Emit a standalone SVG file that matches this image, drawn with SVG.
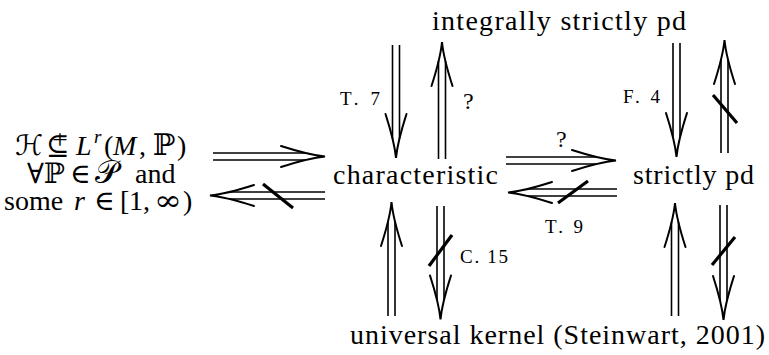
<svg xmlns="http://www.w3.org/2000/svg" xmlns:xlink="http://www.w3.org/1999/xlink" width="769" height="355" viewBox="0 0 769 355">
<style>
  .t { font-family: "Liberation Serif", "DejaVu Serif", serif; font-size: 28px; fill: #000; }
  .it { font-style: italic; }
  .sym { font-family: "DejaVu Serif", "DejaVu Sans", serif; }
  .lbl { font-family: "Liberation Serif", "DejaVu Serif", serif; font-size: 19px; fill: #000; }
  .q { font-size: 24px; }
  .sh { stroke: #000; stroke-width: 1.6; fill: none; }
  .hd { stroke: #000; stroke-width: 2; fill: none; stroke-linecap: round; }
  .sl { stroke: #000; stroke-width: 3.2; fill: none; }
</style>
<defs>
  <path id="ah" class="hd" d="M-44,-10.5 Q-16,-1.5 0,0 Q-16,1.5 -44,10.5"/>
</defs>
<rect width="769" height="355" fill="#fff"/>

<g id="n-left">
  <text class="t sym" x="15" y="155" font-size="25">ℋ</text>
  <text class="t sym" x="46" y="155" font-size="24">⊆</text>
  <text class="t" x="52" y="149" font-size="15">+</text>
  <text class="t" y="155">
    <tspan x="76" class="it">L</tspan><tspan x="94" y="143" class="it" font-size="19">r</tspan><tspan x="104" y="155">(</tspan><tspan x="113" class="it">M</tspan><tspan x="139">,</tspan><tspan x="153" class="sym" font-size="30">ℙ</tspan><tspan x="177" font-size="28">)</tspan>
  </text>
  <text class="t" y="182.5">
    <tspan x="27" class="sym">∀</tspan><tspan x="44" class="sym">ℙ</tspan><tspan x="70" class="sym">∈</tspan><tspan x="95" class="sym" font-size="32">𝒫</tspan><tspan x="135" font-size="28">and</tspan>
  </text>
  <text class="t" y="210">
    <tspan x="4">some</tspan><tspan x="74" class="it">r</tspan><tspan x="94" class="sym">∈</tspan><tspan x="120">[</tspan><tspan x="129">1</tspan><tspan x="143">,</tspan><tspan x="183">)</tspan>
  </text>
  <text class="t sym" transform="translate(154,210) scale(1.2,1)">∞</text>
</g>

<g id="n-char">
  <text class="t" x="333" y="184" textLength="165" lengthAdjust="spacing">characteristic</text>
</g>
<g id="n-isp">
  <text class="t" x="432" y="30" textLength="254" lengthAdjust="spacing">integrally strictly pd</text>
</g>
<g id="n-spd">
  <text class="t" x="633" y="184" textLength="121" lengthAdjust="spacing">strictly pd</text>
</g>
<g id="n-univ">
  <text class="t" x="350" y="344" textLength="415" lengthAdjust="spacing">universal kernel (Steinwart, 2001)</text>
</g>

<g id="connectors">
  <!-- left: H -> characteristic -->
  <g id="e1">
    <line class="sh" x1="213" y1="153" x2="306" y2="153"/>
    <line class="sh" x1="213" y1="160" x2="306" y2="160"/>
    <use href="#ah" transform="translate(325,156.5)"/>
  </g>
  <!-- left: characteristic -/-> H -->
  <g id="e2">
    <line class="sh" x1="229" y1="192" x2="325" y2="192"/>
    <line class="sh" x1="229" y1="199" x2="325" y2="199"/>
    <use href="#ah" transform="translate(210,195.5) rotate(180)"/>
    <line class="sl" x1="263" y1="184" x2="293" y2="208"/>
  </g>
  <!-- integrally strictly pd -> characteristic (T. 7) -->
  <g id="e3">
    <line class="sh" x1="392.5" y1="45" x2="392.5" y2="139"/>
    <line class="sh" x1="399.5" y1="45" x2="399.5" y2="139"/>
    <use href="#ah" transform="translate(396,158) rotate(90)"/>
    <text class="lbl" x="340" y="105" textLength="40" lengthAdjust="spacing">T. 7</text>
  </g>
  <!-- characteristic -> integrally strictly pd (?) -->
  <g id="e4">
    <line class="sh" x1="438.5" y1="61" x2="438.5" y2="159"/>
    <line class="sh" x1="445.5" y1="61" x2="445.5" y2="159"/>
    <use href="#ah" transform="translate(442,42) rotate(-90)"/>
    <text class="lbl q" x="463" y="109">?</text>
  </g>
  <!-- characteristic -> strictly pd (?) -->
  <g id="e5">
    <line class="sh" x1="506" y1="157" x2="597" y2="157"/>
    <line class="sh" x1="506" y1="164" x2="597" y2="164"/>
    <use href="#ah" transform="translate(616,160.5)"/>
    <text class="lbl q" x="556" y="147">?</text>
  </g>
  <!-- strictly pd -/-> characteristic (T. 9) -->
  <g id="e6">
    <line class="sh" x1="527" y1="189" x2="617" y2="189"/>
    <line class="sh" x1="527" y1="196" x2="617" y2="196"/>
    <use href="#ah" transform="translate(508,192.5) rotate(180)"/>
    <line class="sl" x1="558" y1="203" x2="588" y2="181"/>
    <text class="lbl" x="545" y="233" textLength="38" lengthAdjust="spacing">T. 9</text>
  </g>
  <!-- integrally strictly pd -> strictly pd (F. 4) -->
  <g id="e7">
    <line class="sh" x1="673" y1="43" x2="673" y2="138"/>
    <line class="sh" x1="680" y1="43" x2="680" y2="138"/>
    <use href="#ah" transform="translate(676.5,157) rotate(90)"/>
    <text class="lbl" x="623" y="103" textLength="37" lengthAdjust="spacing">F. 4</text>
  </g>
  <!-- strictly pd -/-> integrally strictly pd -->
  <g id="e8">
    <line class="sh" x1="721" y1="59" x2="721" y2="153"/>
    <line class="sh" x1="728" y1="59" x2="728" y2="153"/>
    <use href="#ah" transform="translate(724.5,40) rotate(-90)"/>
    <line class="sl" x1="713" y1="95" x2="737" y2="123"/>
  </g>
  <!-- universal -> characteristic -->
  <g id="e9">
    <line class="sh" x1="388" y1="221" x2="388" y2="316"/>
    <line class="sh" x1="395" y1="221" x2="395" y2="316"/>
    <use href="#ah" transform="translate(391.5,202) rotate(-90)"/>
  </g>
  <!-- characteristic -/-> universal (C. 15) -->
  <g id="e10">
    <line class="sh" x1="437" y1="206" x2="437" y2="300"/>
    <line class="sh" x1="444" y1="206" x2="444" y2="300"/>
    <use href="#ah" transform="translate(440.5,319.5) rotate(90)"/>
    <line class="sl" x1="429" y1="266" x2="452" y2="235"/>
    <text class="lbl" x="460" y="263" textLength="48" lengthAdjust="spacing">C. 15</text>
  </g>
  <!-- universal -> strictly pd -->
  <g id="e11">
    <line class="sh" x1="671.5" y1="222" x2="671.5" y2="316"/>
    <line class="sh" x1="678.5" y1="222" x2="678.5" y2="316"/>
    <use href="#ah" transform="translate(675,203) rotate(-90)"/>
  </g>
  <!-- strictly pd -/-> universal -->
  <g id="e12">
    <line class="sh" x1="720" y1="205" x2="720" y2="301"/>
    <line class="sh" x1="727" y1="205" x2="727" y2="301"/>
    <use href="#ah" transform="translate(723.5,320) rotate(90)"/>
    <line class="sl" x1="712" y1="265" x2="735" y2="237"/>
  </g>
</g>
</svg>
